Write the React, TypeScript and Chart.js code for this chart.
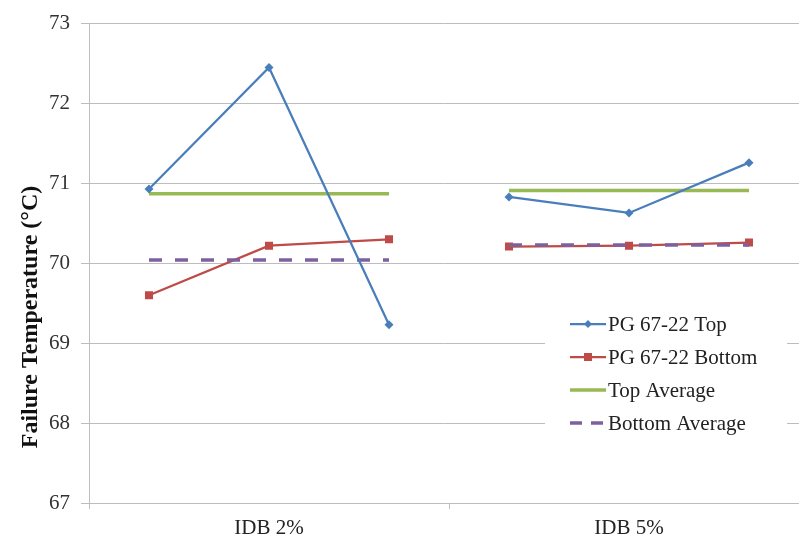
import React, { useEffect, useRef } from 'react';
import { Chart, registerables } from 'chart.js';

Chart.register(...registerables);

// ---- data ----
const groups = ['IDB 2%', 'IDB 5%'];
const topValues = [
  [70.93, 72.45, 69.23],
  [70.83, 70.63, 71.26],
];
const bottomValues = [
  [69.6, 70.22, 70.3],
  [70.21, 70.22, 70.26],
];
const topAverage = [70.87, 70.91];
const bottomAverage = [70.04, 70.23];
const yMin = 67;
const yMax = 73;
const yStep = 1;
const seriesNames = ['PG 67-22 Top', 'PG 67-22 Bottom', 'Top Average', 'Bottom Average'];

const SLOTS = 3;
const FONT = '"Liberation Serif", "Times New Roman", serif';
const BLUE = '#4a7ebb';
const RED = '#be4b48';
const GREEN = '#98b954';
const PURPLE = '#7e60a0';
const GRID = '#bdbdbd';

type Pt = { x: number; y: number | null };

function seriesPoints(vals: number[][]): Pt[] {
  const pts: Pt[] = [];
  vals.forEach((g, gi) => {
    if (gi > 0) pts.push({ x: gi * SLOTS, y: null });
    g.forEach((v, i) => pts.push({ x: gi * SLOTS + i + 0.5, y: v }));
  });
  return pts;
}

function averagePoints(avgs: number[]): Pt[] {
  const pts: Pt[] = [];
  avgs.forEach((v, gi) => {
    if (gi > 0) pts.push({ x: gi * SLOTS, y: null });
    pts.push({ x: gi * SLOTS + 0.5, y: v }, { x: gi * SLOTS + SLOTS - 0.5, y: v });
  });
  return pts;
}

const decorPlugin = {
  id: 'decor',
  afterDraw(chart: any) {
    const ctx = chart.ctx as CanvasRenderingContext2D;
    const xs = chart.scales.x;
    const area = chart.chartArea;
    ctx.save();
    // x-axis tick marks between groups
    ctx.strokeStyle = GRID;
    ctx.lineWidth = 1;
    for (let g = 0; g <= groups.length; g++) {
      const px = Math.round(xs.getPixelForValue(g * SLOTS)) + 0.5;
      if (px > area.right) continue;
      ctx.beginPath();
      ctx.moveTo(px, area.bottom);
      ctx.lineTo(px, area.bottom + 6);
      ctx.stroke();
    }
    // y-axis title
    ctx.save();
    ctx.translate(31, 317);
    ctx.rotate(-Math.PI / 2);
    ctx.font = `bold 24px ${FONT}`;
    ctx.fillStyle = '#111';
    ctx.textAlign = 'center';
    ctx.textBaseline = 'middle';
    ctx.fillText('Failure Temperature (°C)', 0, 0);
    ctx.restore();

    // legend box inside plot
    ctx.fillStyle = '#ffffff';
    ctx.fillRect(545, 300, 242, 146);
    const styles = [
      { color: BLUE, width: 2.25, dash: [] as number[], marker: 'diamond' },
      { color: RED, width: 2.25, dash: [] as number[], marker: 'square' },
      { color: GREEN, width: 3.5, dash: [] as number[], marker: '' },
      { color: PURPLE, width: 3.5, dash: [12, 9], marker: '' },
    ];
    seriesNames.forEach((name, i) => {
      const y = 324 + i * 33;
      const st = styles[i];
      ctx.strokeStyle = st.color;
      ctx.lineWidth = st.width;
      ctx.setLineDash(st.dash);
      ctx.beginPath();
      ctx.moveTo(570, y);
      ctx.lineTo(606, y);
      ctx.stroke();
      ctx.setLineDash([]);
      ctx.fillStyle = st.color;
      if (st.marker === 'diamond') {
        ctx.beginPath();
        ctx.moveTo(588, y - 4);
        ctx.lineTo(592, y);
        ctx.lineTo(588, y + 4);
        ctx.lineTo(584, y);
        ctx.closePath();
        ctx.fill();
      } else if (st.marker === 'square') {
        ctx.fillRect(584, y - 4, 8, 8);
      }
      ctx.font = `21px ${FONT}`;
      ctx.fillStyle = '#222';
      ctx.textAlign = 'left';
      ctx.textBaseline = 'middle';
      ctx.fillText(name, 608, y + 1);
    });
    ctx.restore();
  },
};

export default function App() {
  const ref = useRef<HTMLCanvasElement | null>(null);

  useEffect(() => {
    document.body.style.margin = '0';
    const canvas = ref.current;
    if (!canvas) return;
    const chart = new Chart(canvas, {
      type: 'line',
      data: {
        datasets: [
          {
            label: seriesNames[0],
            data: seriesPoints(topValues) as any,
            borderColor: BLUE,
            backgroundColor: BLUE,
            borderWidth: 2.25,
            pointStyle: 'rectRot',
            pointRadius: 4.5,
            pointBorderWidth: 0,
            spanGaps: false,
            order: 0,
          },
          {
            label: seriesNames[1],
            data: seriesPoints(bottomValues) as any,
            borderColor: RED,
            backgroundColor: RED,
            borderWidth: 2.25,
            pointStyle: 'rect',
            pointRadius: 5.7,
            pointBorderWidth: 0,
            spanGaps: false,
            order: 2,
          },
          {
            label: seriesNames[2],
            data: averagePoints(topAverage) as any,
            borderColor: GREEN,
            backgroundColor: GREEN,
            borderWidth: 3.5,
            pointRadius: 0,
            spanGaps: false,
            order: 3,
          },
          {
            label: seriesNames[3],
            data: averagePoints(bottomAverage) as any,
            borderColor: PURPLE,
            backgroundColor: PURPLE,
            borderWidth: 3.5,
            borderDash: [13, 13],
            pointRadius: 0,
            spanGaps: false,
            order: 1,
          },
        ],
      },
      options: {
        responsive: false,
        animation: false,
        devicePixelRatio: 1,
        layout: { autoPadding: false, padding: { top: 20, right: 0, left: 0, bottom: 0 } },
        plugins: {
          legend: { display: false },
          tooltip: { enabled: false },
          title: { display: false },
        },
        scales: {
          x: {
            type: 'linear',
            min: 0,
            max: 710 / 120,
            afterFit: (scale: any) => {
              scale.height = 41;
              scale.paddingLeft = 0;
              scale.paddingRight = 0;
            },
            afterBuildTicks: (scale: any) => {
              scale.ticks = groups.map((_, i) => ({ value: i * SLOTS + SLOTS / 2 }));
            },
            grid: { display: false, drawTicks: false },
            border: { display: true, color: GRID, width: 1 },
            ticks: {
              autoSkip: false,
              maxRotation: 0,
              padding: 13,
              color: '#222',
              font: { family: FONT, size: 21 },
              callback: (value: any) => groups[Math.round((Number(value) - SLOTS / 2) / SLOTS)] ?? '',
            },
          },
          y: {
            type: 'linear',
            min: yMin,
            max: yMax,
            afterFit: (scale: any) => {
              scale.width = 89;
            },
            grid: { color: GRID, lineWidth: 1, tickLength: 8, drawTicks: true },
            border: { display: true, color: GRID, width: 1 },
            ticks: {
              stepSize: yStep,
              padding: 11,
              color: '#333',
              font: { family: FONT, size: 21 },
            },
          },
        },
      },
      plugins: [decorPlugin],
    });
    return () => chart.destroy();
  }, []);

  return (
    <div style={{ width: 799, height: 544, background: '#fff' }}>
      <canvas ref={ref} width={799} height={544} style={{ display: 'block' }} />
    </div>
  );
}
